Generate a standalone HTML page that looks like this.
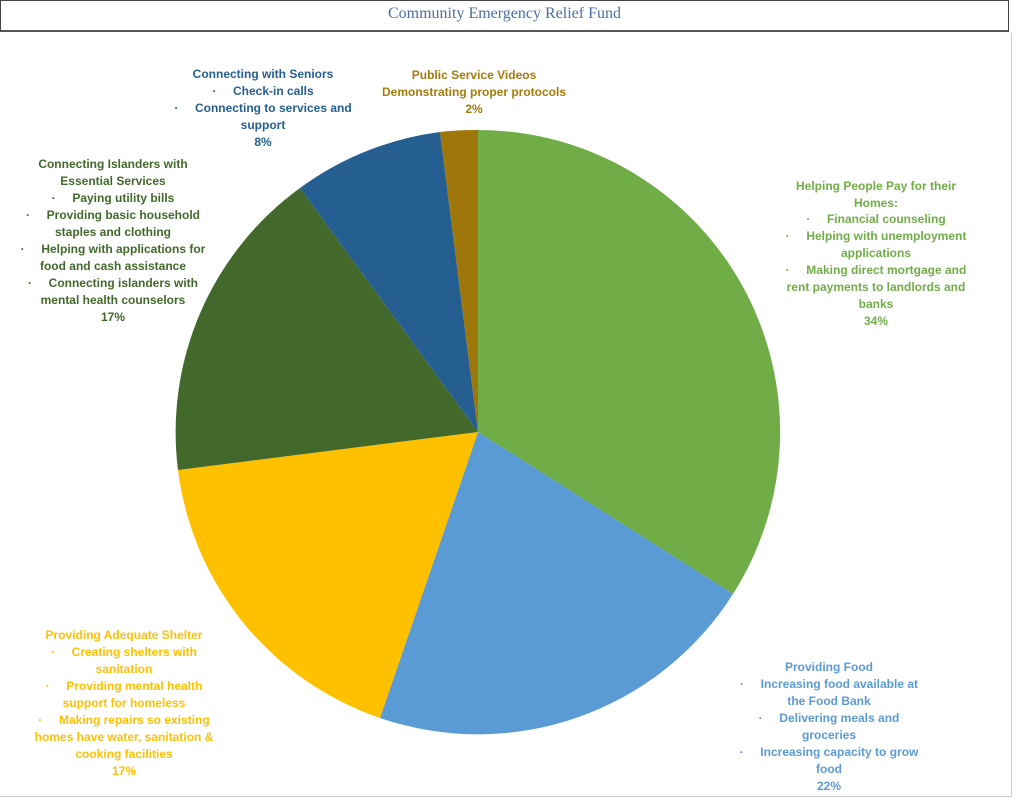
<!DOCTYPE html>
<html><head><meta charset="utf-8"><style>
body{margin:0;width:1024px;height:807px;background:#fff;position:relative;overflow:hidden;font-family:"Liberation Sans",sans-serif}
.t{position:absolute;width:320px;text-align:center;font-size:12px;font-weight:bold;line-height:16px;white-space:pre}
</style></head><body>
<div style="position:absolute;left:0;top:0;width:1009px;height:32px;border:1px solid #444;border-bottom:2px solid #555;box-sizing:border-box"></div>
<div style="position:absolute;left:0;top:33px;width:1012px;height:764px;border-right:1px solid #ccc;border-bottom:1px solid #ccc;box-sizing:border-box"></div>
<div style="position:absolute;left:0;width:1009px;top:5px;text-align:center;font-family:'Liberation Serif',serif;font-size:16px;color:#4a6fa5">Community Emergency Relief Fund</div>
<svg style="position:absolute;left:0;top:0" width="1024" height="807">
<path d="M478,432 L478,130 A302,302 0 0 1 733,594 Z" fill="#70ad47"/>
<path d="M478,432 L733,594 A302,302 0 0 1 380,718 Z" fill="#5b9bd5"/>
<path d="M478,432 L380,718 A302,302 0 0 1 178,470 Z" fill="#ffc000"/>
<path d="M478,432 L178,470 A302,302 0 0 1 300,188 Z" fill="#43682b"/>
<path d="M478,432 L300,188 A302,302 0 0 1 440,132 Z" fill="#255e91"/>
<path d="M478,432 L440,132 A302,302 0 0 1 478,130 Z" fill="#9e7609"/>
</svg>
<div style="color:#255e91">
<div class="t" style="left:103px;top:66px">Connecting with Seniors</div>
<div class="t" style="left:103px;top:83px">·     Check-in calls</div>
<div class="t" style="left:103px;top:100px">·     Connecting to services and</div>
<div class="t" style="left:103px;top:117px">support</div>
<div class="t" style="left:103px;top:134px">8%</div>
</div>
<div style="color:#a47a0c">
<div class="t" style="left:314px;top:67px">Public Service Videos</div>
<div class="t" style="left:314px;top:84px">Demonstrating proper protocols</div>
<div class="t" style="left:314px;top:101px">2%</div>
</div>
<div style="color:#43682b">
<div class="t" style="left:-47px;top:156px">Connecting Islanders with</div>
<div class="t" style="left:-47px;top:173px">Essential Services</div>
<div class="t" style="left:-47px;top:190px">·     Paying utility bills</div>
<div class="t" style="left:-47px;top:207px">·     Providing basic household</div>
<div class="t" style="left:-47px;top:224px">staples and clothing</div>
<div class="t" style="left:-47px;top:241px">·     Helping with applications for</div>
<div class="t" style="left:-47px;top:258px">food and cash assistance</div>
<div class="t" style="left:-47px;top:275px">·     Connecting islanders with</div>
<div class="t" style="left:-47px;top:292px">mental health counselors</div>
<div class="t" style="left:-47px;top:309px">17%</div>
</div>
<div style="color:#70ad47">
<div class="t" style="left:716px;top:178px">Helping People Pay for their</div>
<div class="t" style="left:716px;top:195px">Homes:</div>
<div class="t" style="left:716px;top:211px">·     Financial counseling</div>
<div class="t" style="left:716px;top:228px">·     Helping with unemployment</div>
<div class="t" style="left:716px;top:245px">applications</div>
<div class="t" style="left:716px;top:262px">·     Making direct mortgage and</div>
<div class="t" style="left:716px;top:279px">rent payments to landlords and</div>
<div class="t" style="left:716px;top:296px">banks</div>
<div class="t" style="left:716px;top:313px">34%</div>
</div>
<div style="color:#ffc000">
<div class="t" style="left:-36px;top:627px">Providing Adequate Shelter</div>
<div class="t" style="left:-36px;top:644px">·     Creating shelters with</div>
<div class="t" style="left:-36px;top:661px">sanitation</div>
<div class="t" style="left:-36px;top:678px">·     Providing mental health</div>
<div class="t" style="left:-36px;top:695px">support for homeless</div>
<div class="t" style="left:-36px;top:712px">·     Making repairs so existing</div>
<div class="t" style="left:-36px;top:729px">homes have water, sanitation &amp;</div>
<div class="t" style="left:-36px;top:746px">cooking facilities</div>
<div class="t" style="left:-36px;top:763px">17%</div>
</div>
<div style="color:#5b9bd5">
<div class="t" style="left:669px;top:659px">Providing Food</div>
<div class="t" style="left:669px;top:676px">·     Increasing food available at</div>
<div class="t" style="left:669px;top:693px">the Food Bank</div>
<div class="t" style="left:669px;top:710px">·     Delivering meals and</div>
<div class="t" style="left:669px;top:727px">groceries</div>
<div class="t" style="left:669px;top:744px">·     Increasing capacity to grow</div>
<div class="t" style="left:669px;top:761px">food</div>
<div class="t" style="left:669px;top:778px">22%</div>
</div>
</body></html>
